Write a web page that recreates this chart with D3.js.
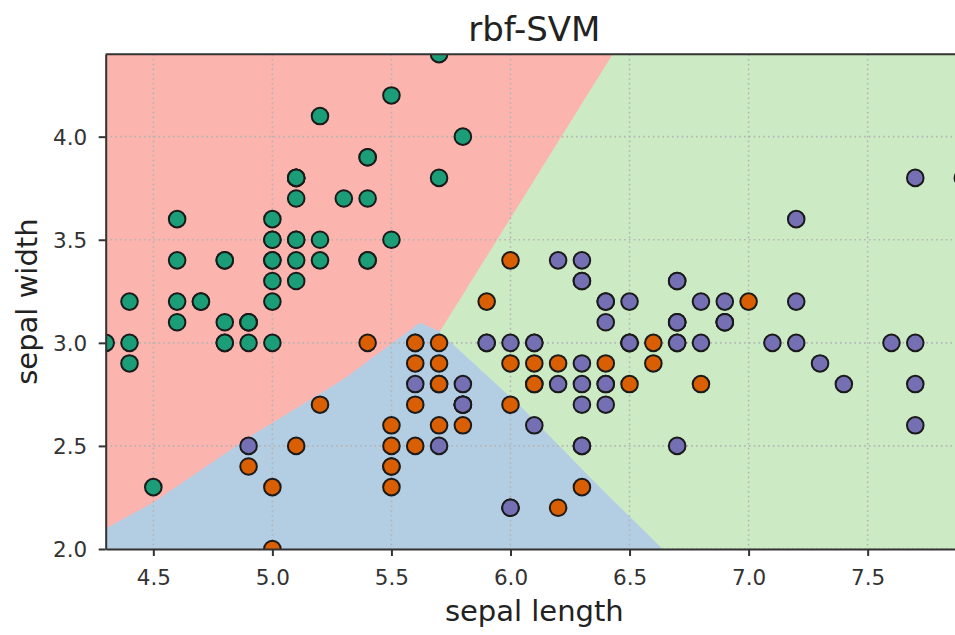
<!DOCTYPE html>
<html>
<head>
<meta charset="utf-8">
<script src="https://cdn.jsdelivr.net/npm/d3@7"></script>
<style>
  body { margin: 0; background: #fff; }
  svg { display: block; font-family: "DejaVu Sans", sans-serif; }
</style>
</head>
<body>
<svg id="chart"></svg>
<script>
// iris sepal measurements, one array per class: [sepal length, sepal width]
var setosa = [
    [5.1,3.5],[4.9,3.0],[4.7,3.2],[4.6,3.1],[5.0,3.6],[5.4,3.9],[4.6,3.4],[5.0,3.4],[4.4,2.9],[4.9,3.1],
    [5.4,3.7],[4.8,3.4],[4.8,3.0],[4.3,3.0],[5.8,4.0],[5.7,4.4],[5.4,3.9],[5.1,3.5],[5.7,3.8],[5.1,3.8],
    [5.4,3.4],[5.1,3.7],[4.6,3.6],[5.1,3.3],[4.8,3.4],[5.0,3.0],[5.0,3.4],[5.2,3.5],[5.2,3.4],[4.7,3.2],
    [4.8,3.1],[5.4,3.4],[5.2,4.1],[5.5,4.2],[4.9,3.1],[5.0,3.2],[5.5,3.5],[4.9,3.1],[4.4,3.0],[5.1,3.4],
    [5.0,3.5],[4.5,2.3],[4.4,3.2],[5.0,3.5],[5.1,3.8],[4.8,3.0],[5.1,3.8],[4.6,3.2],[5.3,3.7],[5.0,3.3]
];
var versicolor = [
    [7.0,3.2],[6.4,3.2],[6.9,3.1],[5.5,2.3],[6.5,2.8],[5.7,2.8],[6.3,3.3],[4.9,2.4],[6.6,2.9],[5.2,2.7],
    [5.0,2.0],[5.9,3.0],[6.0,2.2],[6.1,2.9],[5.6,2.9],[6.7,3.1],[5.6,3.0],[5.8,2.7],[6.2,2.2],[5.6,2.5],
    [5.9,3.2],[6.1,2.8],[6.3,2.5],[6.1,2.8],[6.4,2.9],[6.6,3.0],[6.8,2.8],[6.7,3.0],[6.0,2.9],[5.7,2.6],
    [5.5,2.4],[5.5,2.4],[5.8,2.7],[6.0,2.7],[5.4,3.0],[6.0,3.4],[6.7,3.1],[6.3,2.3],[5.6,3.0],[5.5,2.5],
    [5.5,2.6],[6.1,3.0],[5.8,2.6],[5.0,2.3],[5.6,2.7],[5.7,3.0],[5.7,2.9],[6.2,2.9],[5.1,2.5],[5.7,2.8]
];
var virginica = [
    [6.3,3.3],[5.8,2.7],[7.1,3.0],[6.3,2.9],[6.5,3.0],[7.6,3.0],[4.9,2.5],[7.3,2.9],[6.7,2.5],[7.2,3.6],
    [6.5,3.2],[6.4,2.7],[6.8,3.0],[5.7,2.5],[5.8,2.8],[6.4,3.2],[6.5,3.0],[7.7,3.8],[7.7,2.6],[6.0,2.2],
    [6.9,3.2],[5.6,2.8],[7.7,2.8],[6.3,2.7],[6.7,3.3],[7.2,3.2],[6.2,2.8],[6.1,3.0],[6.4,2.8],[7.2,3.0],
    [7.4,2.8],[7.9,3.8],[6.4,2.8],[6.3,2.8],[6.1,2.6],[7.7,3.0],[6.3,3.4],[6.4,3.1],[6.0,3.0],[6.9,3.1],
    [6.7,3.1],[6.9,3.1],[5.8,2.7],[6.8,3.2],[6.7,3.3],[6.7,3.0],[6.3,2.5],[6.5,3.0],[6.2,3.4],[5.9,3.0]
];

// decision boundaries of the rbf-SVM
var redBlueEdge = [[4.3,2.097],[4.499,2.223],[4.906,2.543],[5.297,2.820],[5.620,3.096],[5.704,3.052]];
var redGreenEdge = [[6.431,4.4],[5.704,3.052]];
var blueGreenEdge = [[5.704,3.052],[6.039,2.698],[6.376,2.301],[6.641,2.0]];

var xDomain = [4.3, 7.9];
var yDomain = [2.0, 4.4];
var xTicks = [4.5, 5.0, 5.5, 6.0, 6.5, 7.0, 7.5];
var yTicks = [2.0, 2.5, 3.0, 3.5, 4.0];

var pointColors = ["#1b9e77", "#d95f02", "#7570b3"];
var regionColors = ["#fbb4ae", "#b3cde3", "#ccebc5"];

var width = 955, height = 635;
var plotLeft = 105.7, plotRight = 962.9, plotTop = 54.2, plotBottom = 549;

var svg = d3.select("#chart")
    .attr("width", width)
    .attr("height", height);

var x = d3.scaleLinear().domain(xDomain).range([plotLeft, plotRight]);
var y = d3.scaleLinear().domain(yDomain).range([plotBottom, plotTop]);

svg.append("clipPath").attr("id", "plot-clip")
    .append("rect")
    .attr("x", plotLeft).attr("y", plotTop)
    .attr("width", plotRight - plotLeft).attr("height", plotBottom - plotTop);

var plot = svg.append("g").attr("clip-path", "url(#plot-clip)");

// regions built from the edges
var x0 = xDomain[0], x1 = xDomain[1], y0 = yDomain[0], y1 = yDomain[1];
var redPoly = [[x0, y1]].concat(redGreenEdge, redBlueEdge.slice().reverse().slice(1));
var bluePoly = [[x0, y0]].concat(redBlueEdge, blueGreenEdge.slice(1));
var greenPoly = [[x1, y1], [x1, y0]].concat(blueGreenEdge.slice().reverse(), redGreenEdge.slice().reverse());

var line = d3.line()
    .x(function (d) { return x(d[0]); })
    .y(function (d) { return y(d[1]); })
    .curve(d3.curveLinearClosed);

plot.selectAll("path.region")
    .data([redPoly, bluePoly, greenPoly])
    .enter().append("path")
    .attr("class", "region")
    .attr("d", line)
    .attr("fill", function (d, i) { return regionColors[i]; })
    .attr("stroke", function (d, i) { return regionColors[i]; })
    .attr("stroke-width", 0.8);

// dotted grid
plot.selectAll("line.gx")
    .data(xTicks)
    .enter().append("line")
    .attr("class", "gx")
    .attr("x1", function (d) { return x(d); })
    .attr("x2", function (d) { return x(d); })
    .attr("y1", plotTop).attr("y2", plotBottom)
    .attr("stroke", "#b4b4b4").attr("stroke-width", 1.6)
    .attr("stroke-dasharray", "1.6,3.2");

plot.selectAll("line.gy")
    .data(yTicks)
    .enter().append("line")
    .attr("class", "gy")
    .attr("y1", function (d) { return y(d); })
    .attr("y2", function (d) { return y(d); })
    .attr("x1", plotLeft).attr("x2", plotRight)
    .attr("stroke", "#b4b4b4").attr("stroke-width", 1.6)
    .attr("stroke-dasharray", "1.6,3.2");

// points, drawn in class order like one scatter call
var points = [];
[setosa, versicolor, virginica].forEach(function (arr, k) {
    arr.forEach(function (p) { points.push({ sl: p[0], sw: p[1], cls: k }); });
});

plot.selectAll("circle")
    .data(points)
    .enter().append("circle")
    .attr("cx", function (d) { return x(d.sl); })
    .attr("cy", function (d) { return y(d.sw); })
    .attr("r", 8.3)
    .attr("fill", function (d) { return pointColors[d.cls]; })
    .attr("stroke", "#1a1a1a")
    .attr("stroke-width", 2);

// axes
var fmt = d3.format(".1f");
var xAxis = svg.append("g")
    .attr("transform", "translate(0," + plotBottom + ")")
    .call(d3.axisBottom(x).tickValues(xTicks).tickFormat(fmt).tickSize(7).tickSizeOuter(0));

var yAxis = svg.append("g")
    .attr("transform", "translate(" + plotLeft + ",0)")
    .call(d3.axisLeft(y).tickValues(yTicks).tickFormat(fmt).tickSize(7).tickSizeOuter(0));

[xAxis, yAxis].forEach(function (g) {
    g.select(".domain").attr("stroke", "#333").attr("stroke-width", 2);
    g.selectAll(".tick line").attr("stroke", "#333").attr("stroke-width", 2);
    g.selectAll(".tick text")
        .attr("fill", "#333")
        .style("font-size", "21.5px")
        .style("font-family", "DejaVu Sans");
});
xAxis.selectAll(".tick text").attr("y", 36).attr("dy", 0);
yAxis.selectAll(".tick text").attr("x", -18.5).attr("dy", "0.36em");

// top and right spines
svg.append("line")
    .attr("x1", plotLeft).attr("x2", plotRight).attr("y1", plotTop).attr("y2", plotTop)
    .attr("stroke", "#333").attr("stroke-width", 2);
svg.append("line")
    .attr("x1", plotRight).attr("x2", plotRight).attr("y1", plotTop).attr("y2", plotBottom)
    .attr("stroke", "#333").attr("stroke-width", 2);

// titles
svg.append("text")
    .attr("x", (plotLeft + plotRight) / 2).attr("y", 41)
    .attr("text-anchor", "middle")
    .attr("fill", "#222")
    .style("font-size", "34px")
    .text("rbf-SVM");

svg.append("text")
    .attr("x", (plotLeft + plotRight) / 2).attr("y", 621)
    .attr("text-anchor", "middle")
    .attr("fill", "#222")
    .style("font-size", "29px")
    .text("sepal length");

svg.append("text")
    .attr("transform", "translate(37," + (plotTop + plotBottom) / 2 + ") rotate(-90)")
    .attr("text-anchor", "middle")
    .attr("fill", "#222")
    .style("font-size", "29px")
    .text("sepal width");
</script>
</body>
</html>
